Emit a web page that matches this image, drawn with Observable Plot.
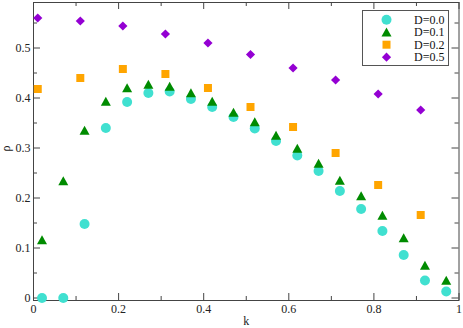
<!DOCTYPE html>
<html><head><meta charset="utf-8">
<script src="https://cdn.jsdelivr.net/npm/d3@7"></script>
<script src="https://cdn.jsdelivr.net/npm/@observablehq/plot@0.6"></script>
<style>body{margin:0;background:#fff} svg, svg text{font-family:"Liberation Serif","Times New Roman",serif !important}</style>
</head><body><div id="chart"></div>
<script>
const kA = [0.02,0.07,0.12,0.17,0.22,0.27,0.32,0.37,0.42,0.47,0.52,0.57,0.62,0.67,0.72,0.77,0.82,0.87,0.92,0.97];
const rhoD00 = [0,0,0.148,0.34,0.392,0.41,0.413,0.398,0.382,0.362,0.339,0.314,0.285,0.254,0.214,0.178,0.134,0.086,0.035,0.013];
const rhoD01 = [0.116,0.234,0.335,0.393,0.42,0.427,0.423,0.41,0.393,0.371,0.352,0.325,0.299,0.269,0.235,0.204,0.165,0.12,0.065,0.035];
const kB = [0.01,0.11,0.21,0.31,0.41,0.51,0.61,0.71,0.81,0.91];
const rhoD02 = [0.418,0.44,0.458,0.448,0.42,0.382,0.342,0.29,0.226,0.166];
const rhoD05 = [0.560,0.554,0.544,0.528,0.51,0.487,0.460,0.436,0.408,0.376];
const seriesNames = ["D=0.0","D=0.1","D=0.2","D=0.5"];
const seriesColors = ["#40E0D0","#008B00","#FFA500","#9400D3"];
const xTickLabels = [0,0.2,0.4,0.6,0.8,1];
const yTickLabels = [0,0.1,0.2,0.3,0.4,0.5];
const xMinor = [0.1,0.3,0.5,0.7,0.9];
const yMinor = [0.05,0.15,0.25,0.35,0.45,0.55];

const symCircle = {draw(c){c.moveTo(5,0);c.arc(0,0,5,0,2*Math.PI);}};
const symTri = {draw(c){c.moveTo(0,-4.8);c.lineTo(5,4.2);c.lineTo(-5,4.2);c.closePath();}};
const symSquare = {draw(c){c.rect(-4,-4,8,8);}};
const symDiamond = {draw(c){c.moveTo(0,-4.6);c.lineTo(4.6,0);c.lineTo(0,4.6);c.lineTo(-4.6,0);c.closePath();}};
const syms = [symCircle,symTri,symSquare,symDiamond];

const data = [
  ...kA.map((k,i)=>({k, rho: rhoD00[i], s: 0})),
  ...kA.map((k,i)=>({k, rho: rhoD01[i], s: 1})),
  ...kB.map((k,i)=>({k, rho: rhoD02[i], s: 2})),
  ...kB.map((k,i)=>({k, rho: rhoD05[i], s: 3}))
];

const W = 463, H = 328, mT = 2, mB = 28, mL = 33, mR = 4.5;
const fh = H - mT - mB, fw = W - mL - mR;
const gray = "#444";
const major = 7, minor = 4;
const FONT = "'Liberation Serif', 'Times New Roman', serif";

const marks = [
  Plot.frame({stroke: gray, strokeWidth: 1}),
  Plot.tickX(xTickLabels, {x: d=>d, stroke: gray, insetTop: fh - major}),
  Plot.tickX(xTickLabels, {x: d=>d, stroke: gray, insetBottom: fh - major}),
  Plot.tickX(xMinor, {x: d=>d, stroke: gray, insetTop: fh - minor}),
  Plot.tickX(xMinor, {x: d=>d, stroke: gray, insetBottom: fh - minor}),
  Plot.tickY(yTickLabels, {y: d=>d, stroke: gray, insetRight: fw - major}),
  Plot.tickY(yTickLabels, {y: d=>d, stroke: gray, insetLeft: fw - major}),
  Plot.tickY(yMinor, {y: d=>d, stroke: gray, insetRight: fw - minor}),
  Plot.tickY(yMinor, {y: d=>d, stroke: gray, insetLeft: fw - minor}),
  Plot.axisX(xTickLabels, {tickSize: 0, tickPadding: 4, tickFormat: d=>String(d), fontSize: 12, fontFamily: FONT, fill: "#222", label: null}),
  Plot.axisY(yTickLabels, {tickSize: 0, tickPadding: 3, tickFormat: d=>String(d), fontSize: 12, fontFamily: FONT, fill: "#222", label: null}),
  Plot.text(["k"], {frameAnchor: "bottom", dy: 21, fontSize: 12, fontFamily: FONT, lineAnchor: "middle", fill: "#222"}),
  Plot.text(["ρ"], {frameAnchor: "left", dx: -27, rotate: -90, fontSize: 12, fontFamily: FONT, lineAnchor: "middle", fill: "#222"}),
  ...[0,1,2,3].map(s => Plot.dot(data.filter(d=>d.s===s), {x: "k", y: "rho", symbol: () => syms[s], fill: seriesColors[s], stroke: "none", r: 5})),
  ...[0,1,2,3].map(s => Plot.dot([s], {frameAnchor: "top-right", dx: -72.5, dy: 17.3 + s*12.45, symbol: () => syms[s], fill: seriesColors[s], stroke: "none", r: 5})),
  ...[0,1,2,3].map(s => Plot.text([seriesNames[s]], {frameAnchor: "top-right", dx: -14.5, dy: 17.3 + s*12.45, textAnchor: "end", lineAnchor: "middle", fontSize: 12, fontFamily: FONT, fill: "#111"}))
];

const chart = Plot.plot({
  width: W, height: H,
  marginTop: mT, marginBottom: mB, marginLeft: mL, marginRight: mR,
  style: {fontFamily: FONT, background: "#fff", overflow: "visible"},
  x: {domain: [0, 1]},
  y: {domain: [-0.005, 0.591]},
  symbol: {type: "identity"},
  marks
});
document.getElementById("chart").appendChild(chart);

d3.select(chart).append("rect")
  .attr("x", 362.5).attr("y", 10.5).attr("width", 86).attr("height", 55)
  .attr("fill", "none").attr("stroke", "#555").attr("stroke-width", 1);
</script>
</body></html>
